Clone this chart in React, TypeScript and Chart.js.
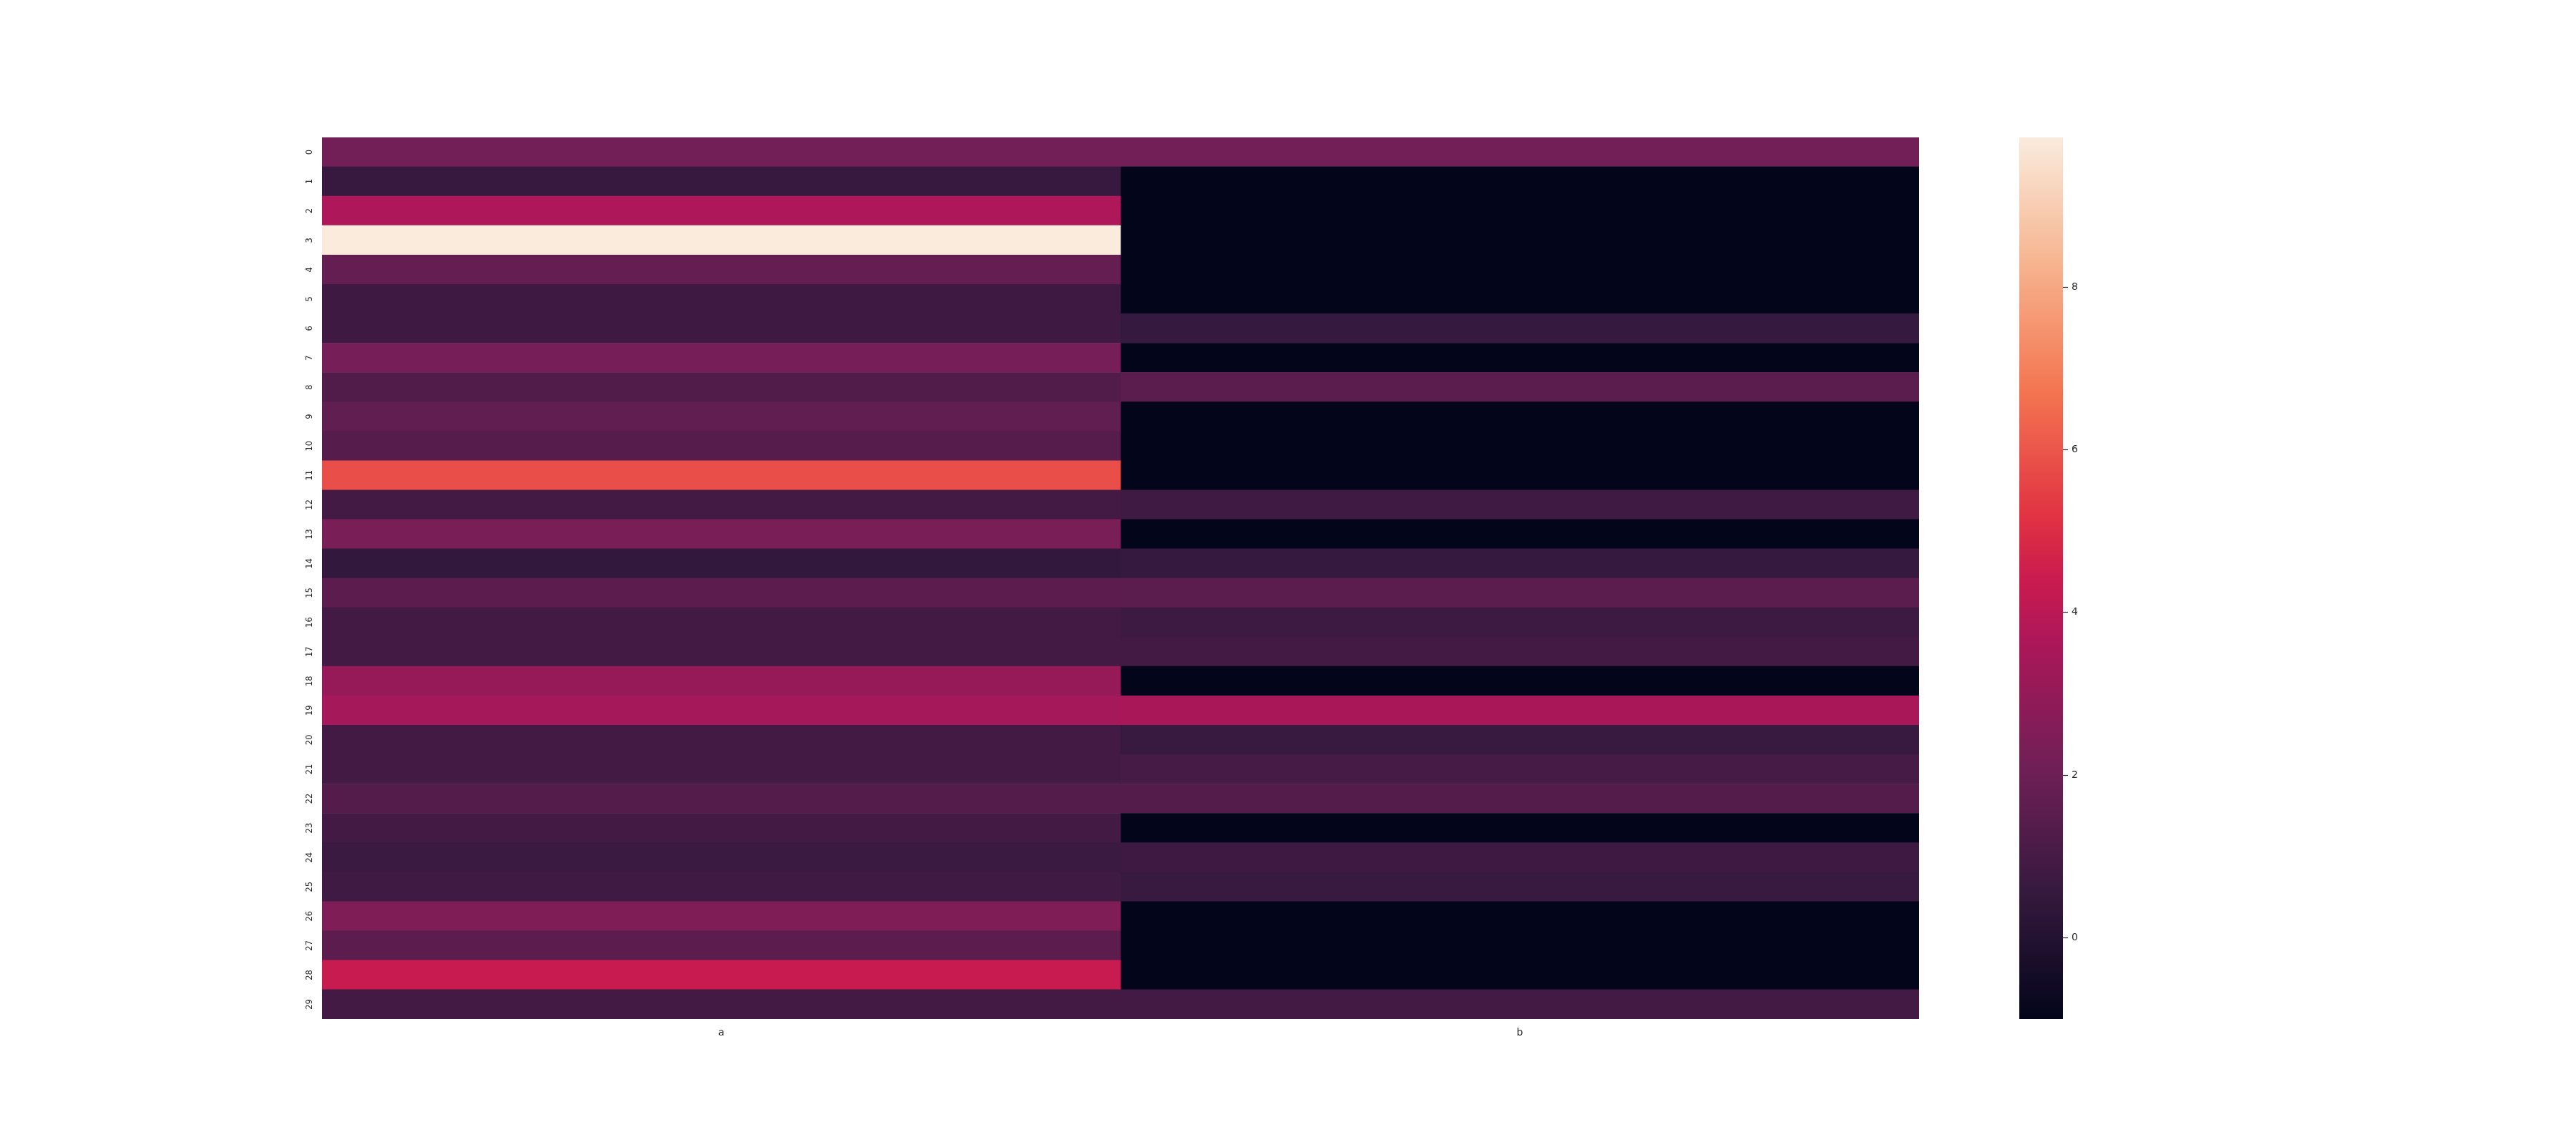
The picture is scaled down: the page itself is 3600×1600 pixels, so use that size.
import React, { useEffect, useRef } from "react";
import { Chart, registerables } from "chart.js";

Chart.register(...registerables);

// ---- data ----
const rowLabels = ["0", "1", "2", "3", "4", "5", "6", "7", "8", "9", "10", "11", "12", "13", "14", "15", "16", "17", "18", "19", "20", "21", "22", "23", "24", "25", "26", "27", "28", "29"];
const columnLabels = ["a", "b"];
const valuesA = [2.18, 0.6, 3.66, 9.84, 1.79, 0.79, 0.79, 2.25, 1.31, 1.71, 1.42, 5.84, 0.9, 2.36, 0.49, 1.57, 0.9, 0.9, 3.07, 3.44, 0.9, 0.9, 1.34, 0.9, 0.68, 0.81, 2.48, 1.57, 4.35, 0.9];
const valuesB = [2.18, -1.0, -1.0, -1.0, -1.0, -1.0, 0.57, -1.0, 1.53, -1.0, -1.0, -1.0, 0.81, -1.0, 0.57, 1.53, 0.77, 0.9, -1.0, 3.57, 0.63, 1.0, 1.34, -1.0, 0.79, 0.63, -1.0, -1.0, -1.0, 0.9];
const colorbarTicks = [0, 2, 4, 6, 8];

// ---- rocket colormap anchors (style) ----
const rocketStops: [number, string][] = [
  [0, "#03051a"],
  [1 / 7, "#35193e"],
  [2 / 7, "#701f57"],
  [3 / 7, "#ad1759"],
  [0.5, "#cb1b4f"],
  [4 / 7, "#e13342"],
  [5 / 7, "#f37651"],
  [6 / 7, "#f6b48f"],
  [1, "#faebdd"],
];

function hexToRgb(h: string) {
  return [parseInt(h.slice(1, 3), 16), parseInt(h.slice(3, 5), 16), parseInt(h.slice(5, 7), 16)];
}

function rocket(t: number) {
  const tt = Math.max(0, Math.min(1, t));
  for (let i = 0; i < rocketStops.length - 1; i++) {
    const [t0, c0] = rocketStops[i];
    const [t1, c1] = rocketStops[i + 1];
    if (tt <= t1 + 1e-9) {
      const f = (tt - t0) / (t1 - t0);
      const a = hexToRgb(c0);
      const b = hexToRgb(c1);
      const r = Math.round(a[0] + (b[0] - a[0]) * f);
      const g = Math.round(a[1] + (b[1] - a[1]) * f);
      const bb = Math.round(a[2] + (b[2] - a[2]) * f);
      return `rgb(${r},${g},${bb})`;
    }
  }
  return rocketStops[rocketStops.length - 1][1];
}

const allValues = [...valuesA, ...valuesB];
const vmin = Math.min(...allValues);
const vmax = Math.max(...allValues);
const colorOf = (v: number) => rocket((v - vmin) / (vmax - vmin));

const FONT = "DejaVu Sans";
const TEXT = "#262626";

export default function App() {
  const heatRef = useRef<HTMLCanvasElement | null>(null);
  const cbRef = useRef<HTMLCanvasElement | null>(null);

  useEffect(() => {
    const columns = [valuesA, valuesB];
    const heat = new Chart(heatRef.current as HTMLCanvasElement, {
      type: "bar",
      data: {
        labels: rowLabels,
        datasets: columns.map((vals, ci) => ({
          label: columnLabels[ci],
          data: vals.map(() => [ci, ci + 1]) as any,
          backgroundColor: vals.map(colorOf),
          borderWidth: 0,
          barPercentage: 1,
          categoryPercentage: 1,
          grouped: false,
        })),
      },
      options: {
        indexAxis: "y",
        animation: false,
        responsive: false,
        devicePixelRatio: 1,
        layout: { padding: { left: 0, top: 192, right: 18, bottom: 0 } },
        plugins: { legend: { display: false }, tooltip: { enabled: false }, title: { display: false } },
        scales: {
          x: {
            type: "linear",
            position: "bottom",
            min: 0,
            max: 2,
            grid: { display: false },
            border: { display: false },
            afterBuildTicks: (s: any) => {
              s.ticks = columnLabels.map((_, i) => ({ value: i + 0.5 }));
            },
            ticks: {
              autoSkip: false,
              maxRotation: 0,
              padding: 3,
              color: TEXT,
              font: { family: FONT, size: 13.9 },
              callback: (_v: any, i: number) => columnLabels[i],
            },
            afterFit: (s: any) => {
              s.height = 176;
            },
          },
          y: {
            type: "category",
            grid: { display: false },
            border: { display: false },
            ticks: {
              autoSkip: false,
              minRotation: 90,
              maxRotation: 90,
              crossAlign: "center",
              padding: 2,
              color: TEXT,
              font: { family: FONT, size: 11.5 },
            },
            afterFit: (s: any) => {
              s.width = 450;
            },
          },
        },
      } as any,
    });

    const cb = new Chart(cbRef.current as HTMLCanvasElement, {
      type: "bar",
      data: {
        labels: ["cb"],
        datasets: [
          {
            data: [[vmin, vmax]] as any,
            borderWidth: 0,
            barPercentage: 1,
            categoryPercentage: 1,
            backgroundColor: (ctx: any) => {
              const chart = ctx.chart;
              if (!chart.chartArea) return "#000";
              const y = chart.scales.y;
              const g = chart.ctx.createLinearGradient(0, y.getPixelForValue(vmin), 0, y.getPixelForValue(vmax));
              const n = 128;
              for (let i = 0; i <= n; i++) g.addColorStop(i / n, rocket(i / n));
              return g;
            },
          },
        ],
      },
      options: {
        animation: false,
        responsive: false,
        devicePixelRatio: 1,
        layout: { padding: { left: 122, top: 192, right: 0, bottom: 176 } },
        plugins: { legend: { display: false }, tooltip: { enabled: false }, title: { display: false } },
        scales: {
          x: { display: false },
          y: {
            position: "right",
            min: vmin,
            max: vmax,
            afterBuildTicks: (s: any) => {
              s.ticks = colorbarTicks.map((v) => ({ value: v }));
            },
            grid: { drawOnChartArea: false, drawTicks: true, tickLength: 7, tickWidth: 1.2, tickColor: TEXT },
            border: { display: false },
            ticks: { padding: 5, color: TEXT, font: { family: FONT, size: 13.9 } },
            afterFit: (s: any) => {
              s.width = 117;
            },
          },
        },
      } as any,
    });

    return () => {
      heat.destroy();
      cb.destroy();
    };
  }, []);

  return (
    <div style={{ position: "absolute", left: 0, top: 0, width: 3600, height: 1600, background: "#ffffff" }}>
      <canvas ref={heatRef} width={2700} height={1600} style={{ position: "absolute", left: 0, top: 0, width: 2700, height: 1600 }} />
      <canvas ref={cbRef} width={300} height={1600} style={{ position: "absolute", left: 2700, top: 0, width: 300, height: 1600 }} />
    </div>
  );
}
